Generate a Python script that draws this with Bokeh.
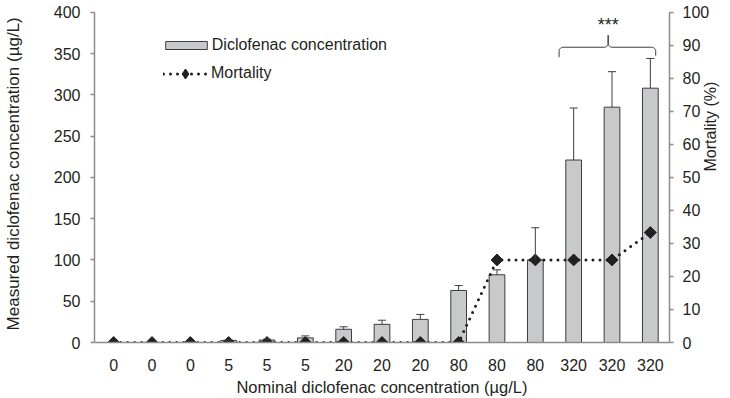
import numpy as np
from bokeh.plotting import figure
from bokeh.models import (Range1d, LinearAxis, FixedTicker, Whisker, TeeHead,
                          ColumnDataSource, Legend, LegendItem, Label,
                          CustomJSTickFormatter)
from bokeh.embed import file_html
from bokeh.resources import INLINE

# ---- data ----
nominal = ["0", "0", "0", "5", "5", "5", "20", "20", "20",
           "80", "80", "80", "320", "320", "320"]
measured = [0, 0, 0, 2.5, 3, 5.6, 16, 22, 28, 63, 82, 100, 221, 285, 308]
err = [0, 0, 0, 0.5, 1, 2.4, 3, 5, 6, 6, 6, 39, 63, 43, 36]
mortality = [0, 0, 0, 0, 0, 0, 0, 0, 0, 0, 25, 25, 25, 25, 33.3]
left_ticks = [0, 50, 100, 150, 200, 250, 300, 350, 400]
right_ticks = [0, 10, 20, 30, 40, 50, 60, 70, 80, 90, 100]

FONT = "Liberation Sans"
TXT = "#231f20"
AX = "#8c8c8c"

n = len(nominal)
xs = [i + 0.5 for i in range(n)]

Y_END = 414.2
p = figure(width=730, height=398, title=None,
           x_range=Range1d(0, n), y_range=Range1d(0, Y_END),
           output_backend="svg", toolbar_location=None,
           min_border_left=93, min_border_right=57,
           min_border_top=0, min_border_bottom=56)
p.extra_y_ranges = {"mort": Range1d(0, Y_END / 4)}
p.xgrid.visible = False
p.ygrid.visible = False
p.outline_line_color = None
p.background_fill_color = "white"
p.border_fill_color = "white"

# bars
src = ColumnDataSource(dict(x=xs, top=measured))
bars = p.vbar(x="x", top="top", width=0.41, source=src,
              fill_color="#c8c9cb", line_color="#3c3c3c", line_width=1)

# error bars (upper only)
ex = [xs[i] for i in range(n) if err[i] > 0]
elo = [measured[i] for i in range(n) if err[i] > 0]
ehi = [measured[i] + err[i] for i in range(n) if err[i] > 0]
esrc = ColumnDataSource(dict(x=ex, lower=elo, upper=ehi))
wh = Whisker(base="x", lower="lower", upper="upper", source=esrc,
             dimension="height", line_color="#3c3c3c", line_width=1,
             lower_head=None,
             upper_head=TeeHead(size=8, line_color="#3c3c3c", line_width=1),
             level="glyph")
p.add_layout(wh)

# mortality line
msrc = ColumnDataSource(dict(x=xs, y=mortality))
mline = p.line(x="x", y="y", source=msrc, y_range_name="mort",
               line_color=TXT, line_width=3, line_dash="0 7", line_cap="round")
# diamond used for the legend swatch (hidden under the markers)
mkey = p.scatter(x="x", y="y", source=msrc, y_range_name="mort",
                 marker="diamond", size=7, fill_color=TXT, line_color=TXT)
mpts = p.scatter(x="x", y="y", source=msrc, y_range_name="mort",
                 marker="square", size=8.4, angle=np.pi / 4,
                 fill_color=TXT, line_color=TXT)

# significance brace over the 320 group
px_x = 580 / n
px_y = 342 / Y_END
bx0, bx1, bxm, by = 12.12, 14.64, 13.40, 357.6
drop_l, drop_r, rise, r = 10, 8.5, 12, 4
W = (bx1 - bx0) * px_x
M = (bxm - bx0) * px_x
t = np.linspace(0, np.pi / 2, 8)
sx = np.concatenate([[0], r - r * np.cos(t), M - r + r * np.sin(t), [M],
                     M + r - r * np.sin(t[::-1]), W - r + r * np.sin(t), [W]])
sy = np.concatenate([[drop_l], r - r * np.sin(t), -r + r * np.cos(t), [-rise],
                     -r + r * np.cos(t[::-1]), r - r * np.cos(t), [drop_r]])
p.line(x=bx0 + sx / px_x, y=by - sy / px_y, line_color="#3c3c3c", line_width=1)
p.add_layout(Label(x=bxm, y=384, text="***", text_align="center",
                   text_baseline="alphabetic", text_font=FONT,
                   text_font_size="18px", text_color=TXT))

# axes
xa = p.xaxis[0]
xa.ticker = FixedTicker(ticks=xs)
xa.formatter = CustomJSTickFormatter(args=dict(labels=nominal),
                                     code="return labels[Math.round(tick - 0.5)];")
xa.major_tick_line_color = None
xa.minor_tick_line_color = None
xa.axis_line_color = AX
xa.axis_line_width = 1.5
xa.major_label_standoff = 10
xa.axis_label = "Nominal diclofenac concentration (µg/L)"
xa.axis_label_standoff = 4

ya = p.yaxis[0]
ya.ticker = FixedTicker(ticks=left_ticks)
ya.bounds = (0, 400)
ya.axis_label = "Measured diclofenac  concentration (µg/L)"
ya.axis_label_standoff = 28
ya.major_label_standoff = 10

ra = LinearAxis(y_range_name="mort", ticker=FixedTicker(ticks=right_ticks),
                bounds=(0, 100))
ra.major_label_standoff = 9
ra.axis_label = "Mortality (%)"
ra.axis_label_orientation = np.pi / 2
ra.axis_label_standoff = -2
p.add_layout(ra, "right")

for ax in (ya, ra):
    ax.axis_line_color = AX
    ax.axis_line_width = 1.5
    ax.major_tick_line_color = AX
    ax.major_tick_line_width = 1.5
    ax.major_tick_in = 0
    ax.major_tick_out = 4
    ax.minor_tick_line_color = None

for ax in (xa, ya, ra):
    ax.major_label_text_font = FONT
    ax.major_label_text_font_size = "16px"
    ax.major_label_text_color = TXT
    ax.axis_label_text_font = FONT
    ax.axis_label_text_font_size = "16px"
    ax.axis_label_text_font_style = "normal"
    ax.axis_label_text_color = TXT
ya.axis_label_text_font_size = "17px"
xa.axis_label_text_font_size = "16.5px"

# legends
common = dict(padding=0, margin=0, border_line_color=None,
              background_fill_alpha=0, label_text_font=FONT,
              label_text_font_size="16px", label_text_color=TXT,
              label_height=20)
leg1 = Legend(items=[LegendItem(label="Diclofenac concentration", renderers=[bars])],
              location=(65.8, 287.5), glyph_width=52, glyph_height=10,
              label_standoff=0, **common)
leg2 = Legend(items=[LegendItem(label="Mortality", renderers=[mline, mkey])],
              location=(69, 256.2), glyph_width=44, glyph_height=25,
              label_standoff=4, **common)
p.add_layout(leg1)
p.add_layout(leg2)

open("out.html", "w").write(file_html(p, INLINE))
